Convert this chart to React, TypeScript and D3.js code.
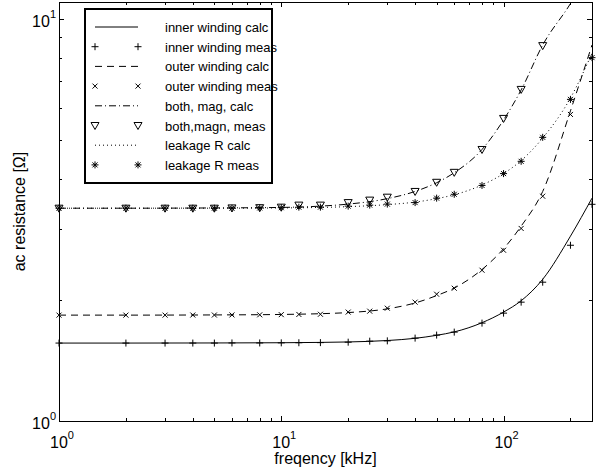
import React, { useEffect, useRef } from 'react';
import * as d3 from 'd3';

// frequencies in kHz
const measFreq = [1, 2, 3, 4, 5, 6, 8, 10, 12, 15, 20, 25, 30, 40, 50, 60, 80, 100, 120, 150, 200, 250];
const calcFreq = [1, 2, 5, 10, 15, 20, 30, 40, 50, 60, 80, 100, 120, 150, 200, 250];

// ac resistance in ohm
const innerCalc = [1.562, 1.562, 1.563, 1.565, 1.568, 1.572, 1.585, 1.605, 1.633, 1.665, 1.755, 1.865, 1.99, 2.25, 2.88, 3.58];
const innerMeas = [1.562, 1.562, 1.562, 1.562, 1.562, 1.563, 1.563, 1.564, 1.565, 1.566, 1.57, 1.579, 1.582, 1.607, 1.635, 1.663, 1.751, 1.854, 1.974, 2.213, 2.734, 3.456];
const outerCalc = [1.833, 1.833, 1.835, 1.84, 1.848, 1.86, 1.9, 1.965, 2.05, 2.14, 2.38, 2.68, 3.05, 3.72, 5.9, 8.6];
const outerMeas = [1.833, 1.833, 1.833, 1.834, 1.834, 1.835, 1.836, 1.838, 1.84, 1.842, 1.865, 1.875, 1.907, 1.974, 2.066, 2.138, 2.37, 2.657, 3.01, 3.62, 5.78];
const bothCalc = [3.38, 3.38, 3.385, 3.395, 3.42, 3.46, 3.57, 3.72, 3.91, 4.14, 4.73, 5.6, 6.65, 8.6, 10.9, 13.5];
const bothMeas = [3.38, 3.38, 3.38, 3.38, 3.38, 3.385, 3.39, 3.4, 3.44, 3.44, 3.49, 3.54, 3.6, 3.72, 3.92, 4.15, 4.73, 5.65, 6.67, 8.57];
const leakCalc = [3.38, 3.38, 3.38, 3.385, 3.395, 3.41, 3.45, 3.5, 3.57, 3.65, 3.86, 4.12, 4.44, 5.05, 6.35, 8.2];
const leakMeas = [3.38, 3.38, 3.38, 3.38, 3.38, 3.38, 3.385, 3.39, 3.4, 3.4, 3.42, 3.44, 3.46, 3.49, 3.58, 3.66, 3.85, 4.12, 4.42, 5.07, 6.3, 8.0];

const legendLabels = [
  'inner winding calc',
  'inner winding meas',
  'outer winding calc',
  'outer winding meas',
  'both, mag, calc',
  'both,magn, meas',
  'leakage R calc',
  'leakage R meas',
];

const markerPaths: Record<string, string> = {
  plus: 'M-3.5,0H3.5M0,-3.5V3.5',
  cross: 'M-2.5,-2.5L2.5,2.5M-2.5,2.5L2.5,-2.5',
  tri: 'M-4,-3L4,-3L0,4Z',
  star: 'M-3.5,0H3.5M0,-3.5V3.5M-2.5,-2.5L2.5,2.5M-2.5,2.5L2.5,-2.5',
};

const App = () => {
  const svgRef = useRef<SVGSVGElement>(null);

  useEffect(() => {
    const svg = d3.select(svgRef.current);
    svg.selectAll('*').remove();

    const left = 59, right = 592, top = 2, bottom = 421;
    const font = '"Liberation Sans", Arial, Helvetica, sans-serif';

    const x = d3.scaleLog().domain([1, 250]).range([left, right]);
    const y = d3.scaleLog().domain([1, 11]).range([bottom, top]);

    svg.append('defs').append('clipPath').attr('id', 'plotclip')
      .append('rect')
      .attr('x', left).attr('y', top)
      .attr('width', right - left).attr('height', bottom - top);

    // ticks on all four sides, pointing in
    const xt = x.ticks();
    const yt = y.ticks();
    const isMajor = (v: number) => Math.abs(Math.log10(v) - Math.round(Math.log10(v))) < 1e-9;
    const tk = svg.append('g').attr('stroke', '#000').attr('stroke-width', 1);
    xt.forEach(v => {
      const px = Math.round(x(v)) + 0.5;
      const len = isMajor(v) ? 5 : 3;
      tk.append('line').attr('x1', px).attr('x2', px).attr('y1', bottom).attr('y2', bottom - len);
      tk.append('line').attr('x1', px).attr('x2', px).attr('y1', top).attr('y2', top + len);
    });
    yt.forEach(v => {
      const py = Math.round(y(v)) + 0.5;
      const len = isMajor(v) ? 5 : 3;
      tk.append('line').attr('y1', py).attr('y2', py).attr('x1', left).attr('x2', left + len);
      tk.append('line').attr('y1', py).attr('y2', py).attr('x1', right).attr('x2', right - len);
    });

    // tick labels
    xt.filter(isMajor).forEach(v => {
      const t = svg.append('text')
        .attr('x', x(v) + 3).attr('y', 448)
        .attr('text-anchor', 'middle')
        .attr('font-family', font).attr('font-size', 16);
      t.append('tspan').text('10');
      t.append('tspan').attr('font-size', 11).attr('dy', -9).text(String(Math.round(Math.log10(v))));
    });
    yt.filter(isMajor).forEach(v => {
      const t = svg.append('text')
        .attr('x', left - 3).attr('y', y(v) + 8)
        .attr('text-anchor', 'end')
        .attr('font-family', font).attr('font-size', 16);
      t.append('tspan').text('10');
      t.append('tspan').attr('font-size', 11).attr('dy', -9).text(String(Math.round(Math.log10(v))));
    });

    // axis titles
    svg.append('text')
      .attr('x', (left + right) / 2).attr('y', 464)
      .attr('text-anchor', 'middle')
      .attr('font-family', font).attr('font-size', 16)
      .text('freqency [kHz]');
    svg.append('text')
      .attr('transform', `translate(25,${(top + bottom) / 2}) rotate(-90)`)
      .attr('text-anchor', 'middle')
      .attr('font-family', font).attr('font-size', 16)
      .text('ac resistance [Ω]');

    const line = d3.line<[number, number]>()
      .x(d => x(d[0]))
      .y(d => y(d[1]))
      .curve(d3.curveMonotoneX);

    const zip = (f: number[], r: number[]) => r.map((v, i) => [f[i], v] as [number, number]);

    const calcSeries = [
      { data: innerCalc, dash: null },
      { data: outerCalc, dash: '7,5' },
      { data: bothCalc, dash: '7,3,1,3' },
      { data: leakCalc, dash: '1,3' },
    ];
    const lines = svg.append('g').attr('clip-path', 'url(#plotclip)');
    calcSeries.forEach(s => {
      lines.append('path')
        .attr('d', line(zip(calcFreq, s.data)))
        .attr('fill', 'none')
        .attr('stroke', '#000')
        .attr('stroke-width', 1)
        .attr('stroke-dasharray', s.dash);
    });

    const measSeries = [
      { data: innerMeas, m: 'plus' },
      { data: outerMeas, m: 'cross' },
      { data: bothMeas, m: 'tri' },
      { data: leakMeas, m: 'star' },
    ];
    measSeries.forEach(s => {
      svg.append('g').selectAll('path')
        .data(zip(measFreq, s.data))
        .enter()
        .append('path')
        .attr('transform', d => `translate(${x(d[0])},${y(d[1])})`)
        .attr('d', markerPaths[s.m])
        .attr('fill', 'none')
        .attr('stroke', '#000')
        .attr('stroke-width', 1);
    });

    // plot box
    svg.append('rect')
      .attr('x', left + 0.5).attr('y', top + 0.5)
      .attr('width', right - left).attr('height', bottom - top)
      .attr('fill', 'none').attr('stroke', '#000').attr('stroke-width', 1);

    // legend
    const lg = svg.append('g');
    lg.append('rect')
      .attr('x', 85).attr('y', 9).attr('width', 187).attr('height', 174)
      .attr('fill', '#fff').attr('stroke', '#000').attr('stroke-width', 2);
    const legendStyle = [
      { dash: null, m: null },
      { dash: 'none', m: 'plus' },
      { dash: '7,5', m: null },
      { dash: 'none', m: 'cross' },
      { dash: '7,3,1,3', m: null },
      { dash: 'none', m: 'tri' },
      { dash: '1,3', m: null },
      { dash: 'none', m: 'star' },
    ];
    legendLabels.forEach((label, i) => {
      const ly = 27 + i * 19.7;
      const st = legendStyle[i];
      if (st.m) {
        [95, 138].forEach(mx => {
          lg.append('path')
            .attr('transform', `translate(${mx},${ly})`)
            .attr('d', markerPaths[st.m as string])
            .attr('fill', 'none').attr('stroke', '#000').attr('stroke-width', 1);
        });
      } else {
        lg.append('line')
          .attr('x1', 95).attr('x2', 138).attr('y1', ly).attr('y2', ly)
          .attr('stroke', '#000').attr('stroke-width', 1)
          .attr('stroke-dasharray', st.dash);
      }
      lg.append('text')
        .attr('x', 165).attr('y', ly + 5)
        .attr('font-family', font).attr('font-size', 13)
        .text(label);
    });
  }, []);

  return (
    <svg ref={svgRef} width={596} height={471} style={{ position: 'absolute', left: 0, top: 0 }} />
  );
};

export default App;
